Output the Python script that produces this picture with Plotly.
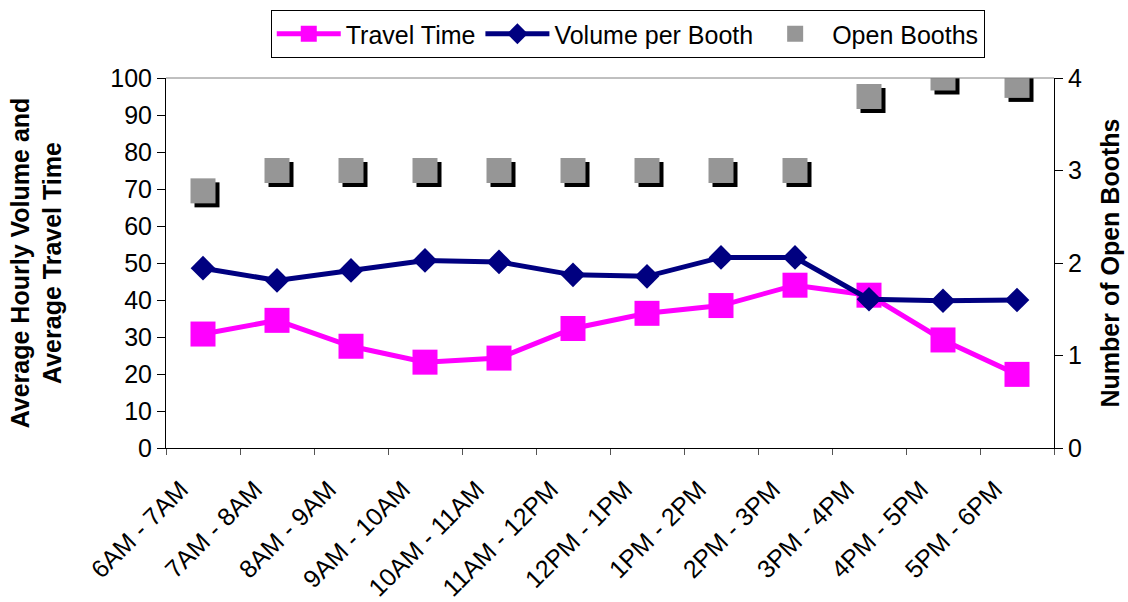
import plotly.graph_objects as go

periods = ["6AM - 7AM", "7AM - 8AM", "8AM - 9AM", "9AM - 10AM", "10AM - 11AM", "11AM - 12PM",
           "12PM - 1PM", "1PM - 2PM", "2PM - 3PM", "3PM - 4PM", "4PM - 5PM", "5PM - 6PM"]
travel_time = [30.8, 34.5, 27.5, 23.2, 24.3, 32.3, 36.4, 38.5, 44.0, 41.3, 29.2, 19.9]
volume_per_booth = [48.6, 45.3, 48.0, 50.7, 50.3, 46.8, 46.4, 51.5, 51.5, 40.2, 39.8, 40.0]
open_booths = [2.78, 3, 3, 3, 3, 3, 3, 3, 3, 3.8, 4, 3.92]

FONT = "Liberation Sans, Arial, sans-serif"
W, H = 1128, 602
ML, MR, MT, MB = 166, 74, 78, 154
plot_w = W - ML - MR
plot_h = H - MT - MB
shadow_px = 4
dx = shadow_px / (plot_w / len(periods))
dy = shadow_px / (plot_h / 4)

fig = go.Figure()
# drop shadow of the open-booth squares (drawn first, on shifted hidden axes)
fig.add_trace(go.Scatter(x=periods, y=open_booths, xaxis="x", yaxis="y", mode="markers",
                         marker=dict(symbol="square", size=25, color="black"),
                         showlegend=False, hoverinfo="skip"))
fig.add_trace(go.Scatter(x=periods, y=travel_time, xaxis="x2", yaxis="y2", name="Travel Time",
                         mode="lines+markers", line=dict(color="#FF00FF", width=5),
                         marker=dict(symbol="square", size=25, color="#FF00FF")))
fig.add_trace(go.Scatter(x=periods, y=volume_per_booth, xaxis="x2", yaxis="y2", name="Volume per Booth",
                         mode="lines+markers", line=dict(color="#000080", width=5),
                         marker=dict(symbol="diamond", size=19, color="#000080")))
fig.add_trace(go.Scatter(x=periods, y=open_booths, xaxis="x2", yaxis="y3", name="Open Booths",
                         mode="markers", marker=dict(symbol="square", size=25, color="#969696")))

fig.update_layout(
    width=W, height=H,
    margin=dict(l=ML, r=MR, t=MT, b=MB, autoexpand=False),
    paper_bgcolor="white", plot_bgcolor="white",
    font=dict(family=FONT, size=25, color="black"),
    xaxis=dict(type="category", categoryorder="array", categoryarray=periods,
               range=[-0.5 - dx, len(periods) - 0.5 - dx], visible=False, domain=[0, 1], anchor="y"),
    yaxis=dict(range=[dy, 4 + dy], visible=False, anchor="x"),
    xaxis2=dict(type="category", categoryorder="array", categoryarray=periods, overlaying="x",
                anchor="y2", side="bottom", range=[-0.5, len(periods) - 0.5],
                tickson="boundaries", ticks="outside", ticklen=6, tickcolor="#555",
                showline=True, linecolor="black", linewidth=1, showgrid=False, zeroline=False,
                tickangle=-45, tickfont=dict(size=25), ticklabelstandoff=16, ticklabelshift=-22),
    yaxis2=dict(overlaying="y", anchor="x2", side="left", range=[0, 100], dtick=10,
                ticks="outside", ticklen=8, tickcolor="black", showline=True, linecolor="black",
                showgrid=False, zeroline=False, tickfont=dict(size=25),
                title=dict(text="<b>Average Hourly Volume and<br>Average Travel Time</b>",
                           font=dict(size=25), standoff=41)),
    yaxis3=dict(overlaying="y", anchor="x2", side="right", range=[0, 4], dtick=1,
                ticks="outside", ticklen=8, tickcolor="black", showline=True, linecolor="black",
                showgrid=False, zeroline=False, tickfont=dict(size=25),
                title=dict(text="<b>Number of Open Booths</b>", font=dict(size=25), standoff=20)),
    legend=dict(orientation="h", x=0.52, xanchor="center", y=1 + (MT - 10) / plot_h, yanchor="top",
                bordercolor="black", borderwidth=1, bgcolor="white", font=dict(size=25),
                itemwidth=64),
    shapes=[dict(type="line", xref="paper", yref="paper", x0=0, x1=1, y0=1, y1=1,
                 line=dict(color="#808080", width=1))],
    showlegend=True,
)

fig.write_html("out.html", config={"displayModeBar": False},
               post_script="document.body.style.margin='0';")
